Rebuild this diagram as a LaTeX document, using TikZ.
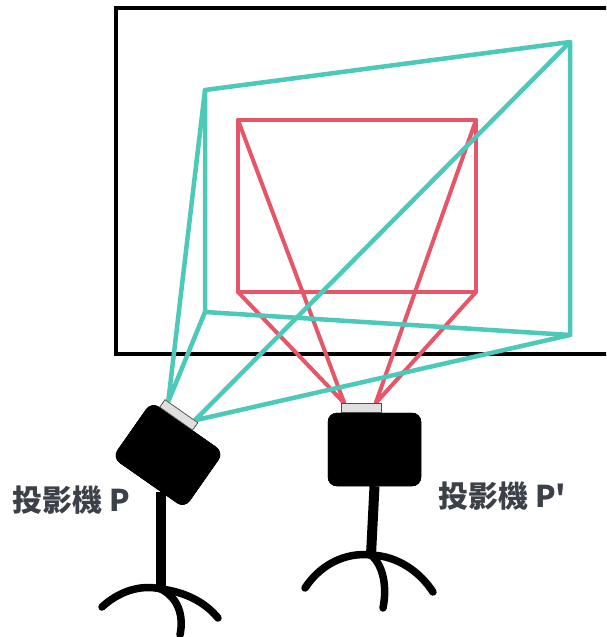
\documentclass[tikz,border=0pt]{standalone}
\usepackage{fontspec}
\newfontfamily\cjk{Noto Sans CJK TC}
\usetikzlibrary{positioning,calc}
\definecolor{beamcyan}{RGB}{76,201,185}
\definecolor{beamred}{RGB}{229,86,104}
\definecolor{inkgray}{RGB}{60,64,72}
\tikzset
{
    screen/.style  = {draw=black, line width=3.5pt},
    beamP/.style   = {draw=beamcyan, line width=4.5pt, line join=round, line cap=round},
    beamQ/.style   = {draw=beamred, line width=4pt, line join=round, line cap=round},
    body/.style    = {rectangle, rounded corners=9pt, fill=black, draw=black, minimum width=#1, minimum height=66pt, inner sep=0pt},
    lens/.style    = {rectangle, fill=gray!25, draw=black!70, line width=0.6pt, minimum width=40pt, minimum height=9pt, inner sep=0pt, anchor=south},
    pole/.style    = {draw=black, line width=10pt},
    leg/.style     = {draw=black, line width=7.5pt, line cap=round},
    cjktext/.style = {font=\cjk\bfseries\fontsize{30pt}{33pt}\selectfont, text=inkgray, inner sep=0pt, anchor=west}
}

\begin{document}
\begin{tikzpicture}[x=1pt, y=-1pt]
   \clip (0,0) rectangle (606,637);

   % wall
   \draw[screen] (116,8) rectangle (640,354);

   % corners of both projected images
   \coordinate (ptl) at (205,90);
   \coordinate (ptr) at (570,42);
   \coordinate (pbr) at (570,335);
   \coordinate (pbl) at (205,312);
   \coordinate (qtl) at (238,120);
   \coordinate (qtr) at (476,120);
   \coordinate (qbr) at (476,292);
   \coordinate (qbl) at (238,292);

   % projector bodies and lenses
   \node (bodyP) [body=88pt, minimum height=68pt, rotate=-35] at (168,455) {};
   \node (lensP) [lens, rotate=-35]        at ($(bodyP.north)!0.32!(bodyP.north west)$) {};
   \node (bodyQ) [body=93pt, minimum height=73pt] at (374.5,449.5) {};
   \node (lensQ) [lens]                    at ($(bodyQ.north)!0.28!(bodyQ.north west)$) {};

   % red image and its rays
   \draw[beamQ] (qtl) -- (qtr) -- (qbr) -- (qbl) -- cycle;
   \draw[beamQ] (qtl) -- ($(lensQ.north west)!0.08!(lensQ.north east)$) -- (qbl);
   \draw[beamQ] (qtr) -- ($(lensQ.north east)!0.15!(lensQ.north west)$) -- (qbr);

   % cyan image and its rays
   \draw[beamP] (ptl) -- (ptr) -- (pbr) -- (pbl) -- cycle;
   \draw[beamP] (ptl) -- ($(lensP.north west)!0.1!(lensP.north east)$) -- (pbl);
   \draw[beamP] (ptr) -- ($(lensP.north east)!0.1!(lensP.north west)$) -- (pbr);

   % redraw the projectors on top of the rays
   \node [body=88pt, minimum height=68pt, rotate=-35] at (bodyP) {};
   \node [lens, rotate=-35] at ($(bodyP.north)!0.32!(bodyP.north west)$) {};
   \node [body=93pt, minimum height=73pt] at (bodyQ) {};
   \node [lens] at ($(bodyQ.north)!0.28!(bodyQ.north west)$) {};

   % stands
   \coordinate (footP) at (161,589);
   \coordinate (footQ) at (371,555);
   \draw[pole] (161,492) -- (footP);
   \draw[pole] (bodyQ.south) -- (footQ);

   \draw[leg] (102,607) .. controls (118,592) and (140,584) .. (footP)
                        .. controls (185,592) and (205,602) .. (218,618);
   \draw[leg] (footP) .. controls (178,598) and (184,615) .. (180,635);

   \draw[leg] (305,588) .. controls (320,565) and (345,552) .. (footQ)
                        .. controls (398,556) and (420,572) .. (433,592);
   \draw[leg] (footQ) .. controls (384,566) and (387,588) .. (383,608);

   % captions
   \node (nameP) [cjktext] at (12,500) {投影機 P};
   \node (nameQ) [cjktext] at (438,496) {投影機 P'};
\end{tikzpicture}
\end{document}
